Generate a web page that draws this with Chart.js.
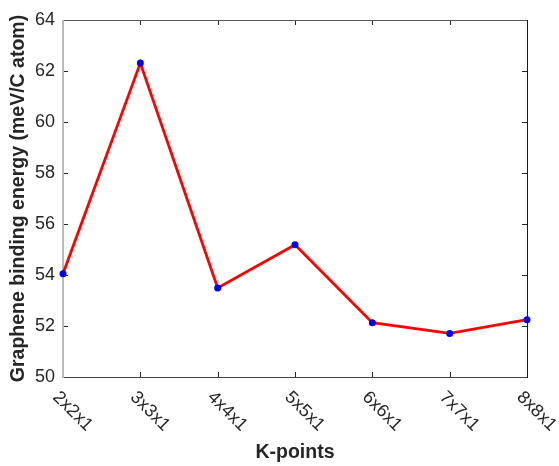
<!DOCTYPE html>
<html>
<head>
<meta charset="utf-8">
<script src="https://cdn.jsdelivr.net/npm/chart.js@4/dist/chart.umd.min.js"></script>
<style>
  html, body { margin: 0; padding: 0; background: #fff; }
  canvas { display: block; }
</style>
</head>
<body>
<canvas id="chart" width="559" height="466"></canvas>
<script>
// K-point meshes and the binding energy computed for each
const kPoints = ['2x2x1', '3x3x1', '4x4x1', '5x5x1', '6x6x1', '7x7x1', '8x8x1'];
const bindingEnergy = [54.05, 62.31, 53.49, 55.19, 52.13, 51.71, 52.25];
const yRange = [50, 64];
const yStep = 2;

const FONT = "'Liberation Sans', Arial, Helvetica, sans-serif";
const TEXT = '#262626';

// Box frame with inward tick marks on all four sides
const framePlugin = {
  id: 'frame',
  beforeDatasetsDraw(chart) {
    const { ctx, chartArea: a, scales: { x, y } } = chart;
    const tl = 5;
    ctx.save();
    ctx.lineCap = 'butt';
    // ticks
    ctx.strokeStyle = '#262626';
    ctx.lineWidth = 1;
    ctx.beginPath();
    x.ticks.forEach((t, i) => {
      const px = Math.round(x.getPixelForTick(i)) + 0.5;
      ctx.moveTo(px, a.bottom); ctx.lineTo(px, a.bottom - tl);
      ctx.moveTo(px, a.top); ctx.lineTo(px, a.top + tl);
    });
    y.ticks.forEach((t, i) => {
      const py = Math.round(y.getPixelForTick(i)) + 0.5;
      ctx.moveTo(a.left, py); ctx.lineTo(a.left + tl, py);
      ctx.moveTo(a.right, py); ctx.lineTo(a.right - tl, py);
    });
    ctx.stroke();
    // edges
    const edge = (color, w, x1, y1, x2, y2) => {
      ctx.strokeStyle = color; ctx.lineWidth = w;
      ctx.beginPath(); ctx.moveTo(x1, y1); ctx.lineTo(x2, y2); ctx.stroke();
    };
    const L = Math.round(a.left), R = Math.round(a.right) + 0.5;
    const T = Math.round(a.top) + 0.5, B = Math.round(a.bottom) + 0.5;
    edge('#595959', 1, L, T, R, T);
    edge('#404040', 1, L, B, R, B);
    edge('#1a1a1a', 1, R, T - 0.5, R, B + 0.5);
    edge('#b8b8b8', 2, L, T - 0.5, L, B + 0.5);
    ctx.restore();
  },
  // slanted category labels below the axis
  afterDraw(chart) {
    const { ctx, chartArea: a, scales: { x } } = chart;
    ctx.save();
    ctx.fillStyle = TEXT;
    ctx.font = '18px ' + FONT;
    ctx.textAlign = 'left';
    ctx.textBaseline = 'top';
    x.ticks.forEach((t, i) => {
      const px = x.getPixelForTick(i);
      ctx.save();
      ctx.translate(px - 1, a.bottom + 11);
      ctx.rotate(Math.PI / 4);
      ctx.fillText(kPoints[i], 0, 0);
      ctx.restore();
    });
    ctx.restore();
  }
};

new Chart(document.getElementById('chart'), {
  type: 'line',
  data: {
    labels: kPoints,
    datasets: [{
      data: bindingEnergy,
      borderColor: '#ff0000',
      borderWidth: 2.8,
      pointRadius: 3.5,
      pointHoverRadius: 3.5,
      pointBackgroundColor: '#0000ff',
      pointBorderWidth: 0,
      tension: 0,
      clip: false
    }]
  },
  options: {
    responsive: false,
    animation: false,
    events: [],
    layout: { padding: { top: 20, right: 32, left: 0, bottom: 0 } },
    plugins: { legend: { display: false }, tooltip: { enabled: false } },
    scales: {
      x: {
        type: 'category',
        offset: false,
        grid: { display: false, drawTicks: false },
        border: { display: false },
        ticks: { display: false },
        title: {
          display: true,
          text: 'K-points',
          color: TEXT,
          font: { family: FONT, size: 19.5, weight: 'bold' },
          padding: { top: 0, bottom: 2 }
        },
        afterFit(scale) { scale.height = 89; }
      },
      y: {
        min: yRange[0],
        max: yRange[1],
        grid: { display: false, drawTicks: false, tickLength: 0 },
        border: { display: false },
        ticks: {
          stepSize: yStep,
          padding: 8,
          color: TEXT,
          font: { family: FONT, size: 18 }
        },
        title: {
          display: true,
          text: 'Graphene binding energy (meV/C atom)',
          color: TEXT,
          font: { family: FONT, size: 19.5, weight: 'bold' },
          padding: { top: 7, bottom: 0 }
        },
        afterFit(scale) { scale.width = 63; }
      }
    }
  },
  plugins: [framePlugin]
});
</script>
</body>
</html>
